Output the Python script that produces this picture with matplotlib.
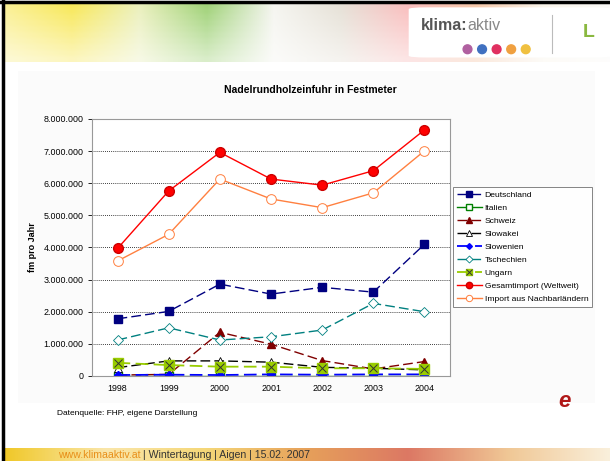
import numpy as np
import matplotlib.pyplot as plt
from matplotlib.patches import Rectangle, FancyBboxPatch
from matplotlib.legend_handler import HandlerTuple

plt.rcParams['font.family'] = ['Liberation Sans', 'DejaVu Sans']

years = ['1998', '1999', '2000', '2001', '2002', '2003', '2004']
deutschland = [1780000, 2010000, 2860000, 2550000, 2760000, 2610000, 4100000]
italien = [10000, 10000, 10000, 10000, 10000, 10000, 10000]
schweiz = [30000, 50000, 1360000, 990000, 480000, 220000, 450000]
slowakei = [260000, 470000, 470000, 430000, 270000, 240000, 190000]
slowenien = [30000, 40000, 30000, 50000, 40000, 50000, 50000]
tschechien = [1120000, 1500000, 1120000, 1220000, 1430000, 2260000, 2000000]
ungarn = [410000, 340000, 290000, 290000, 240000, 240000, 220000]
gesamt = [3970000, 5760000, 6960000, 6130000, 5940000, 6390000, 7660000]
nachbar = [3580000, 4410000, 6130000, 5510000, 5240000, 5700000, 7010000]

yticks = [0, 1000000, 2000000, 3000000, 4000000, 5000000, 6000000, 7000000, 8000000]
ytick_labels = ['0', '1.000.000', '2.000.000', '3.000.000', '4.000.000',
                '5.000.000', '6.000.000', '7.000.000', '8.000.000']

fig = plt.figure(figsize=(6.1, 4.61), dpi=100)

# slide background: header banner
hdr = fig.add_axes([0.006, 0.865, 0.994, 0.128])
grad_cols = np.array([[250, 240, 150], [248, 232, 90], [235, 240, 190], [160, 210, 120],
                      [245, 245, 240], [230, 225, 215], [250, 190, 190], [245, 200, 170],
                      [250, 245, 235], [250, 250, 248]]) / 255.0
xs = np.linspace(0, 1, 300)
stops = np.linspace(0, 1, len(grad_cols))
img = np.stack([np.interp(xs, stops, grad_cols[:, c]) for c in range(3)], axis=-1)
img = np.repeat(img[None, :, :], 10, axis=0)
fade = np.linspace(1, 0, 10)[:, None, None]
img = img * (1 - 0.6 * fade) + 1.0 * 0.6 * fade
img = img[::-1]
hdr.imshow(img, aspect='auto', extent=[0, 1, 0, 1])
hdr.add_patch(FancyBboxPatch((0.668, 0.08), 0.335, 0.85, boxstyle='round,pad=0,rounding_size=0.03',
                             fc='white', ec='none', transform=hdr.transAxes))
t_k = hdr.text(0.688, 0.62, 'klima:', fontsize=11.5, fontweight='bold', color='#555555',
               transform=hdr.transAxes, va='center')
hdr.annotate('aktiv', xy=(1, 0.5), xycoords=t_k, fontsize=11.5, color='#888888', va='center')
hdr.scatter([0.765 + i * 0.024 for i in range(5)], [0.22] * 5, s=40, zorder=3,
            c=['#b060a0', '#4070c0', '#e03060', '#f0a040', '#f0c040'])
hdr.plot([0.905, 0.905], [0.15, 0.8], color='#bbbbbb', lw=0.8)
hdr.text(0.955, 0.5, 'L', fontsize=14, fontweight='bold', color='#8ab840', va='center',
         transform=hdr.transAxes)
hdr.set_xlim(0, 1)
hdr.set_ylim(0, 1)
hdr.axis('off')

# footer bar
ftr = fig.add_axes([0.006, 0.0, 0.994, 0.028])
fcols = np.array([[240, 200, 40], [250, 230, 170], [245, 215, 120], [230, 160, 90],
                  [220, 120, 100], [240, 200, 150], [250, 240, 220]]) / 255.0
fx = np.linspace(0, 1, len(fcols))
fimg = np.stack([np.interp(xs, fx, fcols[:, c]) for c in range(3)], axis=-1)[None, :, :]
ftr.imshow(fimg, aspect='auto', extent=[0, 1, 0, 1])
ftr.axis('off')

# chart panel
fig.patches.append(Rectangle((0.03, 0.125), 0.945, 0.72, transform=fig.transFigure,
                             fc='#fbfbfb', ec='none', zorder=-1))
# slide frame
fig.add_artist(plt.Line2D([0.005, 0.005], [0, 1], color='black', lw=2.5))
fig.add_artist(plt.Line2D([0, 1], [0.995, 0.995], color='black', lw=2.5))

fig.text(0.508, 0.804, 'Nadelrundholzeinfuhr in Festmeter', fontsize=7.5,
         fontweight='bold', ha='center', va='center')
fig.text(0.094, 0.104, 'Datenquelle: FHP, eigene Darstellung', fontsize=6, va='center')
t_www = fig.text(0.095, 0.013, 'www.klimaaktiv.at', fontsize=7.6, color='#e8901a', va='center')
fig.text(0.234, 0.013, '| Wintertagung | Aigen | 15.02. 2007', fontsize=7.6, color='#333333',
         va='center')
fig.text(0.925, 0.13, 'e', fontsize=16, color='#b01818', fontstyle='italic',
         fontweight='bold', ha='center', va='center')

ax = fig.add_axes([0.1508, 0.1844, 0.587, 0.5575])
ax.set_facecolor('white')
x = np.arange(len(years))
dash = (0, (7, 3))
ms = 6

l_de, = ax.plot(x, deutschland, color='#000080', linestyle=dash, lw=1, marker='s', ms=ms,
                mfc='#000080', mec='#000080', label='Deutschland')
l_it, = ax.plot(x, italien, color='#008000', lw=1, marker='s', ms=ms, mfc='white',
                mec='#008000', label='Italien')
l_ch, = ax.plot(x, schweiz, color='#800000', linestyle=dash, lw=1, marker='^', ms=ms,
                mfc='#800000', mec='#800000', label='Schweiz')
l_sk, = ax.plot(x, slowakei, color='black', linestyle=dash, lw=1, marker='^', ms=ms,
                mfc='white', mec='black', mew=0.6, label='Slowakei')
l_si, = ax.plot(x, slowenien, color='#0000ff', linestyle=dash, lw=1.3, marker='D', ms=4.5,
                mfc='#0000ff', mec='#0000ff', label='Slowenien')
l_cz, = ax.plot(x, tschechien, color='#008080', linestyle=dash, lw=1, marker='D', ms=5.5,
                mfc='white', mec='#008080', mew=0.6, label='Tschechien')
l_hu, = ax.plot(x, ungarn, color='#99cc00', linestyle=dash, lw=1.3, marker='s', ms=7,
                mfc='#99cc00', mec='#99cc00', label='Ungarn')
l_hx, = ax.plot(x, ungarn, linestyle='none', marker='x', ms=6, mec='#333333', mew=0.7)
l_gs, = ax.plot(x, gesamt, color='#ff0000', lw=1, marker='o', ms=7, mfc='#ff0000',
                mec='#cc0000', label='Gesamtimport (Weltweit)')
l_nb, = ax.plot(x, nachbar, color='#ff8040', lw=1, marker='o', ms=7, mfc='white',
                mec='#ff8040', mew=0.7, label='Import aus Nachbarländern')

ax.set_xlim(-0.5, len(years) - 0.5)
ax.set_ylim(0, 8000000)
ax.set_xticks(x)
ax.set_xticklabels(years, fontsize=6.4)
ax.set_yticks(yticks)
ax.set_yticklabels(ytick_labels, fontsize=6.4)
ax.tick_params(axis='x', length=0, pad=6)
ax.tick_params(axis='y', length=3, width=0.6, direction='out', pad=3)
ax.grid(axis='y', linestyle=(0, (1, 1.5)), color='black', lw=0.6)
for s in ax.spines.values():
    s.set_color('#999999')
    s.set_linewidth(0.8)
ax.set_ylabel('fm pro Jahr', fontsize=6.5, fontweight='bold', labelpad=5)

handles = [l_de, l_it, l_ch, l_sk, l_si, l_cz, (l_hu, l_hx), l_gs, l_nb]
labels = ['Deutschland', 'Italien', 'Schweiz', 'Slowakei', 'Slowenien', 'Tschechien',
          'Ungarn', 'Gesamtimport (Weltweit)', 'Import aus Nachbarländern']
leg = fig.legend(handles, labels, loc='upper left', bbox_to_anchor=(0.743, 0.594),
                 fontsize=6.1, frameon=True, fancybox=False, edgecolor='#666666',
                 handlelength=2.9, handletextpad=0.35, labelspacing=0.6, markerscale=0.65,
                 borderpad=0.45, borderaxespad=0,
                 handler_map={tuple: HandlerTuple(ndivide=1)})
leg.get_frame().set_linewidth(0.7)

plt.savefig('out.png', dpi=100)
